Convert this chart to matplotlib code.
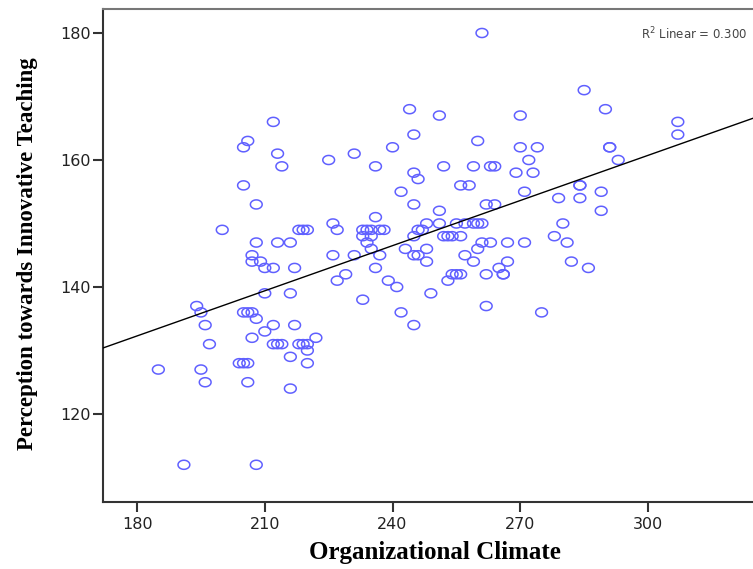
import numpy as np
import matplotlib
matplotlib.use("Agg")
import matplotlib.pyplot as plt
from matplotlib.path import Path

# Organizational Climate (x) vs Perception towards Innovative Teaching (y)
climate = [
    261, 285, 244, 290, 212, 251, 270, 307, 307, 245, 206, 205, 260, 213, 231,
    240, 270, 274, 291, 291, 225, 272, 293, 214, 236, 252, 259, 263, 264, 245,
    246, 269, 273, 205, 256, 258, 284, 284, 242, 271, 289, 279, 284, 208, 245,
    262, 264, 251, 289, 236,
    226, 248, 251, 255, 257, 259, 260, 261, 280,
    200, 218, 219, 220, 227, 233, 234, 235, 237, 238, 246, 247,
    233, 235, 245, 252, 253, 254, 256, 278,
    208, 213, 216, 234, 261, 263, 267, 271, 281,
    235, 243, 248, 260,
    207, 226, 231, 237, 245, 246, 257,
    207, 209, 248, 259, 267, 282,
    210, 212, 217, 236, 265, 286,
    229, 254, 255, 256, 262, 266, 266,
    227, 239, 253,
    241,
    210, 216, 249,
    233,
    194, 262,
    195, 205, 206, 207, 242, 275,
    208,
    196, 212, 217, 245,
    210,
    207, 222,
    197, 212, 213, 214, 218, 219, 220,
    220,
    216,
    204, 205, 206, 220,
    185, 195,
    196, 206,
    216,
    191, 208,
]
perception = [
    180, 171, 168, 168, 166, 167, 167, 166, 164, 164, 163, 162, 163, 161, 161,
    162, 162, 162, 162, 162, 160, 160, 160, 159, 159, 159, 159, 159, 159, 158,
    157, 158, 158, 156, 156, 156, 156, 156, 155, 155, 155, 154, 154, 153, 153,
    153, 153, 152, 152, 151,
    150, 150, 150, 150, 150, 150, 150, 150, 150,
    149, 149, 149, 149, 149, 149, 149, 149, 149, 149, 149, 149,
    148, 148, 148, 148, 148, 148, 148, 148,
    147, 147, 147, 147, 147, 147, 147, 147, 147,
    146, 146, 146, 146,
    145, 145, 145, 145, 145, 145, 145,
    144, 144, 144, 144, 144, 144,
    143, 143, 143, 143, 143, 143,
    142, 142, 142, 142, 142, 142, 142,
    141, 141, 141,
    140,
    139, 139, 139,
    138,
    137, 137,
    136, 136, 136, 136, 136, 136,
    135,
    134, 134, 134, 134,
    133,
    132, 132,
    131, 131, 131, 131, 131, 131, 131,
    130,
    129,
    128, 128, 128, 128,
    127, 127,
    125, 125,
    124,
    112, 112,
]

x_ticks = [180, 210, 240, 270, 300]
y_ticks = [120, 140, 160, 180]
r2_text = "R$^2$ Linear = 0.300"

x = np.array(climate, dtype=float)
y = np.array(perception, dtype=float)
slope, intercept = np.polyfit(x, y, 1)

# slightly wide ellipse marker, like the SPSS export
t = np.linspace(0, 2 * np.pi, 60)
ellipse = Path(np.column_stack([1.3 * np.cos(t), np.sin(t)]), closed=True)

fig = plt.figure(figsize=(7.53, 5.69), dpi=100)
ax = fig.add_axes([103 / 753, 1 - 502 / 569, 700 / 753, 493 / 569])

xmin, ymin = 172.0, 106.14
xmax = xmin + 700 / 4.258
ymax = ymin + 493 / 6.35
ax.set_xlim(xmin, xmax)
ax.set_ylim(ymin, ymax)

ax.scatter(x, y, marker=ellipse, s=72, facecolors="none",
           edgecolors="#6060ff", linewidths=1.1, zorder=2)

xs = np.array([xmin, xmax])
ax.plot(xs, intercept + slope * xs, color="black", lw=1.0, zorder=3)

ax.set_xticks(x_ticks)
ax.set_yticks(y_ticks)
ax.tick_params(direction="out", length=7, width=1.5, color="#333333",
               labelsize=11.5, pad=2)
for lab in ax.get_xticklabels() + ax.get_yticklabels():
    lab.set_family("DejaVu Sans")
    lab.set_color("#222222")
ax.tick_params(axis="x", pad=4)

for side in ["left", "bottom"]:
    ax.spines[side].set_color("#333333")
    ax.spines[side].set_linewidth(1.5)
ax.spines["top"].set_color("#777777")
ax.spines["top"].set_linewidth(1.5)
ax.spines["right"].set_visible(False)

fig.text(747 / 753, 1 - 34 / 569, r2_text, ha="right", va="center",
         fontsize=8.5, color="#444444", family="DejaVu Sans")

fig.text(435 / 753, 1 - 553 / 569, "Organizational Climate", ha="center",
         va="center", fontsize=18, fontweight="bold", family="Liberation Serif")
fig.text(28 / 753, 1 - 254 / 569, "Perception towards Innovative Teaching",
         ha="center", va="center", rotation=90, fontsize=16.5,
         fontweight="bold", family="Liberation Serif")

fig.savefig("out.png", dpi=100)
